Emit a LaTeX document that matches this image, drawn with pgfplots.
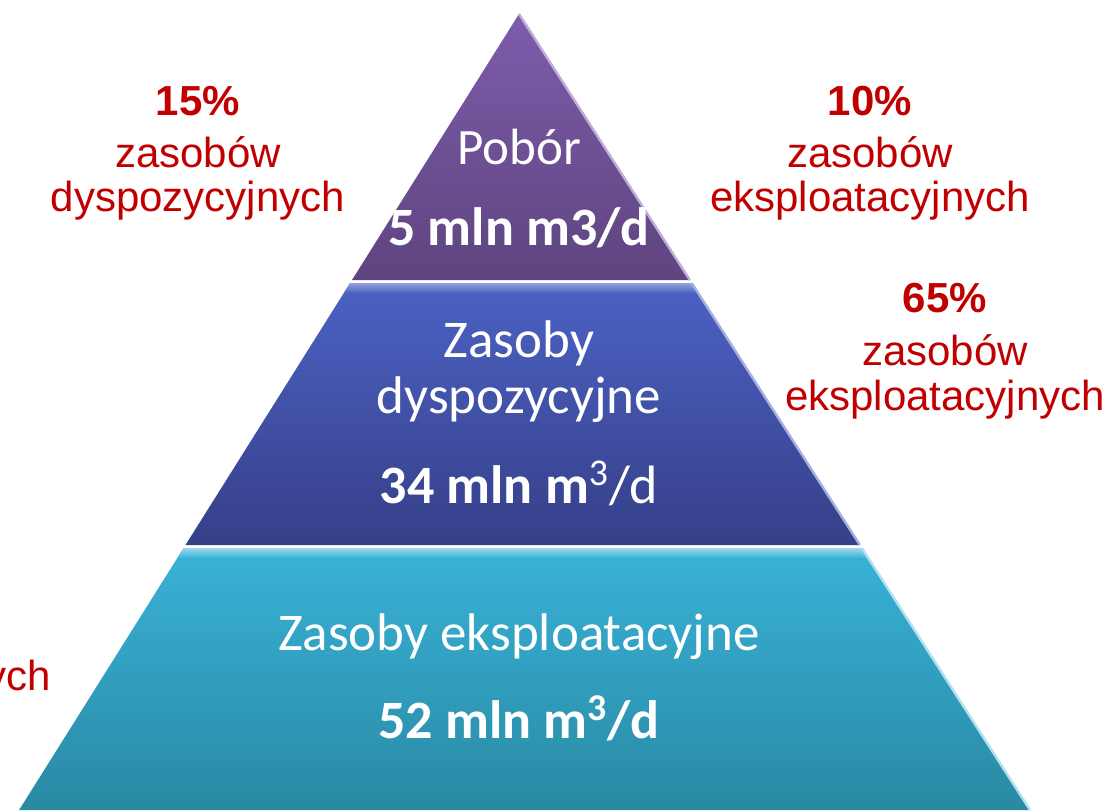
\documentclass[border=0pt]{standalone}
\usepackage{fontspec}
\setmainfont{Carlito}
\newfontfamily\arialf{Liberation Sans}
\usepackage{pgfplots}
\pgfplotsset{compat=1.18}
\definecolor{redt}{HTML}{C00000}
\definecolor{pA}{HTML}{7D5CAB}
\definecolor{pB}{HTML}{5F447F}
\definecolor{bA}{HTML}{4B62C4}
\definecolor{bB}{HTML}{363F88}
\definecolor{cA}{HTML}{39B2D8}
\definecolor{cB}{HTML}{2989A3}
\begin{document}
\begin{tikzpicture}
\begin{axis}[width=553.5pt, height=405pt, scale only axis,
  xmin=0, xmax=1107, ymin=0, ymax=810, y dir=reverse,
  hide axis, clip=false]
% top tier
\addplot[draw=none, top color=pA, bottom color=pB] coordinates {(519,14) (689.8,280) (352.0,280) (519,14)} -- cycle;
% middle tier
\addplot[draw=none, top color=bA, bottom color=bB] coordinates {(350.1,283) (691.7,283) (859.9,545) (185.5,545) (350.1,283)} -- cycle;
\addplot[draw=none, top color=bA!60!white, bottom color=bA] coordinates {(350.1,283) (691.7,283) (698.1,293) (343.8,293) (350.1,283)} -- cycle;
% bottom tier
\addplot[draw=none, top color=cA, bottom color=cB] coordinates {(183.6,548) (861.8,548) (1030.0,810) (19.1,810) (183.6,548)} -- cycle;
\addplot[draw=none, top color=cA!50!white, bottom color=cA] coordinates {(183.6,548) (861.8,548) (868.2,558) (177.3,558) (183.6,548)} -- cycle;
% right-edge highlights
\addplot[draw=pA!50!white, line width=1.2pt] coordinates {(519,14) (689.8,280)};
\addplot[draw=bA!50!white, line width=1.2pt] coordinates {(691.7,283) (859.9,545)};
\addplot[draw=cA!40!white, line width=1.2pt] coordinates {(861.8,548) (1030.0,810)};
% labels in pyramid
\node[white, font=\fontsize{25.5}{30}\selectfont] at (axis cs:519,147) {Pobór};
\node[white, font=\fontsize{27}{30}\selectfont\bfseries] at (axis cs:519,228) {5 mln m3/d};
\node[white, font=\fontsize{26.5}{30}\selectfont] at (axis cs:519,343) {Zasoby};
\node[white, font=\fontsize{26.5}{30}\selectfont] at (axis cs:519,400) {dyspozycyjne};
\node[white, font=\fontsize{27}{30}\selectfont] at (axis cs:519,483) {\textbf{34 mln m}\textsuperscript{3}/d};
\node[white, font=\fontsize{26.5}{30}\selectfont] at (axis cs:519,637) {Zasoby eksploatacyjne};
\node[white, font=\fontsize{27}{30}\selectfont\bfseries] at (axis cs:519,718) {52 mln m\textsuperscript{3}/d};
% red annotations
\node[redt, font=\arialf\fontsize{21}{24}\selectfont\bfseries] at (axis cs:198,101) {15\%};
\node[redt, font=\arialf\fontsize{21}{24}\selectfont] at (axis cs:198,152) {zasobów};
\node[redt, font=\arialf\fontsize{21}{24}\selectfont] at (axis cs:198,201) {dyspozycyjnych};
\node[redt, font=\arialf\fontsize{21}{24}\selectfont\bfseries] at (axis cs:870,101) {10\%};
\node[redt, font=\arialf\fontsize{21}{24}\selectfont] at (axis cs:870,152) {zasobów};
\node[redt, font=\arialf\fontsize{21}{24}\selectfont] at (axis cs:870,201) {eksploatacyjnych};
\node[redt, font=\arialf\fontsize{21}{24}\selectfont\bfseries] at (axis cs:945,298) {65\%};
\node[redt, font=\arialf\fontsize{21}{24}\selectfont] at (axis cs:945,350) {zasobów};
\node[redt, font=\arialf\fontsize{21}{24}\selectfont] at (axis cs:945,400) {eksploatacyjnych};
\node[redt, anchor=east, inner sep=0pt, font=\arialf\fontsize{21}{24}\selectfont] at (axis cs:51,680) {dyspozycyjnych};
\end{axis}
\pgfresetboundingbox
\useasboundingbox (0,0) rectangle (553.5pt,405pt);
\end{tikzpicture}
\end{document}
